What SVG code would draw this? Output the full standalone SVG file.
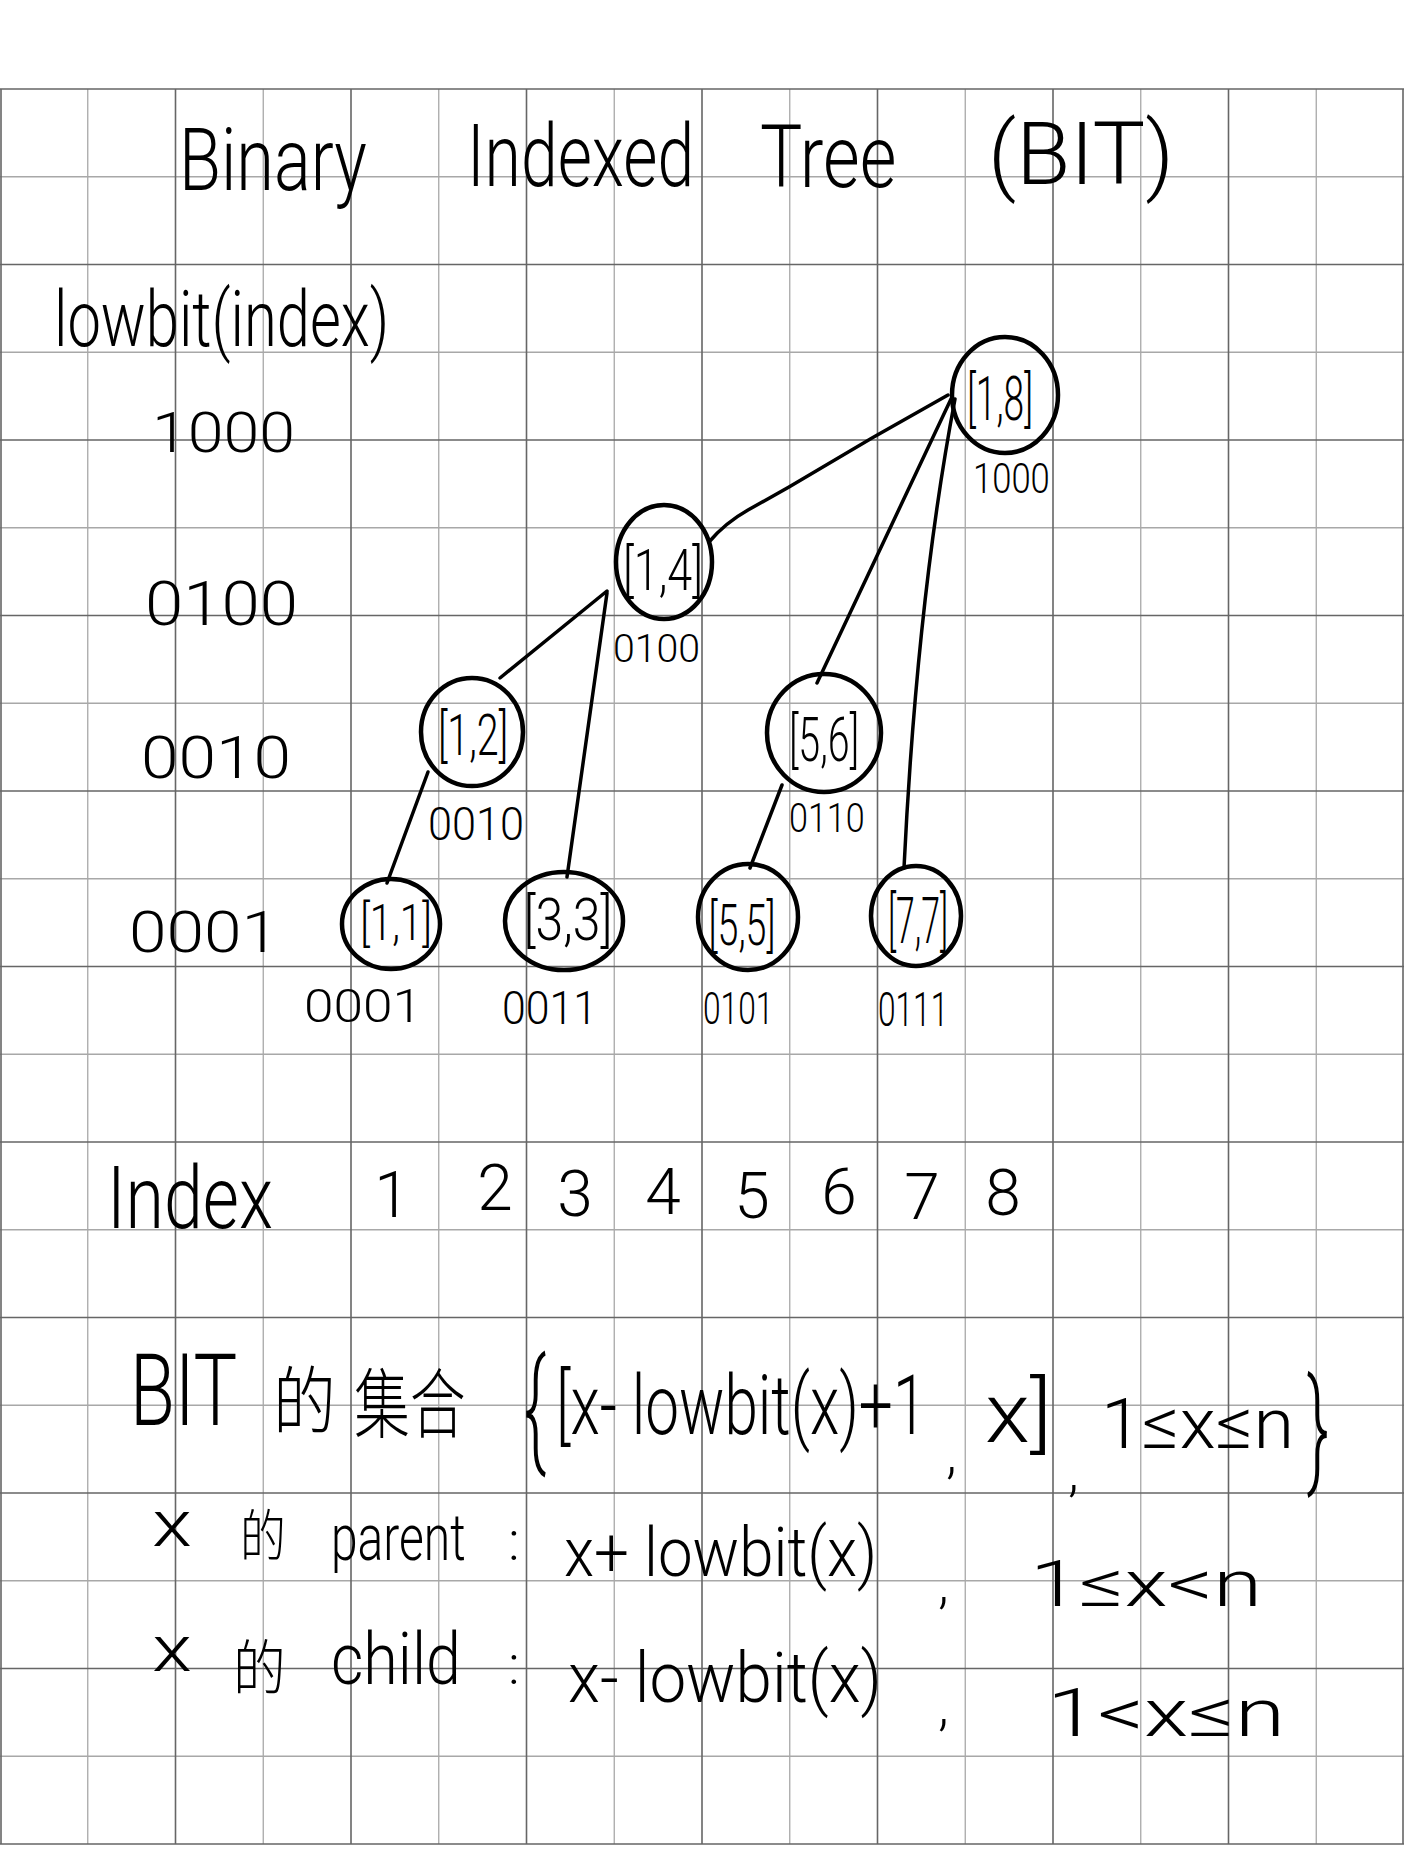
<svg xmlns="http://www.w3.org/2000/svg" width="1404" height="1872" viewBox="0 0 1404 1872">
<style>
.bg{fill:#ffffff}
.gd{stroke:#666;stroke-width:1.6;fill:none}
.gl{stroke:#a8a8a8;stroke-width:1.3;fill:none}
.hw{font-family:"Roboto","Liberation Sans","Noto Sans CJK SC",sans-serif;font-weight:300;fill:#000}
.cjk{font-family:"Noto Sans CJK SC","Noto Sans CJK JP",sans-serif;font-weight:300;fill:#000}
.nd{fill:none;stroke:#000;stroke-width:4.5}
.cn{fill:none;stroke:#000;stroke-width:3.5;stroke-linecap:round;stroke-linejoin:round}
</style>
<rect class="bg" x="0" y="0" width="1404" height="1872"/>
<g id="grid">
<path class="gl" d="M0,176.75H1404M0,352.25H1404M0,527.75H1404M0,703.25H1404M0,878.75H1404M0,1054.25H1404M0,1229.75H1404M0,1405.25H1404M0,1580.75H1404M0,1756.25H1404"/>
<path class="gl" d="M87.75,89V1844M263.25,89V1844M438.75,89V1844M614.25,89V1844M789.75,89V1844M965.25,89V1844M1140.75,89V1844M1316.25,89V1844"/>
<path class="gd" d="M0,89H1404M0,264.5H1404M0,440H1404M0,615.5H1404M0,791H1404M0,966.5H1404M0,1142H1404M0,1317.5H1404M0,1493H1404M0,1668.5H1404M0,1844H1404"/>
<path class="gd" d="M1,89V1844M175.5,89V1844M351,89V1844M526.5,89V1844M702,89V1844M877.5,89V1844M1053,89V1844M1228.5,89V1844M1403,89V1844"/>
</g>
<g id="title">
<text class="hw" transform="translate(179,190) scale(0.77,1)" font-size="88" textLength="244" lengthAdjust="spacingAndGlyphs">Binary</text>
<text class="hw" transform="translate(467,186) scale(0.74,1)" font-size="88" textLength="307" lengthAdjust="spacingAndGlyphs">Indexed</text>
<text class="hw" transform="translate(760,187) scale(0.77,1)" font-size="88" textLength="177" lengthAdjust="spacingAndGlyphs">Tree</text>
<text class="hw" x="988" y="184" font-size="88" textLength="186" lengthAdjust="spacingAndGlyphs">(BIT)</text>
</g>
<g id="axis-labels">
<text class="hw" transform="translate(54,346) scale(0.75,1)" font-size="78" textLength="447" lengthAdjust="spacingAndGlyphs">lowbit(index)</text>
<text class="hw" x="152" y="452" font-size="56" textLength="143" lengthAdjust="spacingAndGlyphs">1000</text>
<text class="hw" x="145" y="625" font-size="62" textLength="153" lengthAdjust="spacingAndGlyphs">0100</text>
<text class="hw" x="141" y="778" font-size="60" textLength="150" lengthAdjust="spacingAndGlyphs">0010</text>
<text class="hw" x="129" y="952" font-size="58" textLength="150" lengthAdjust="spacingAndGlyphs">0001</text>
</g>
<g id="connectors">
<path class="cn" d="M948,395 L872,438 L789,487 L748,510 Q725,523 709,542"/>
<path class="cn" d="M951,399 L817,683"/>
<path class="cn" d="M955,399 Q917,600 904,868"/>
<path class="cn" d="M607,591 L500,678"/>
<path class="cn" d="M607,593 L567,877"/>
<path class="cn" d="M428,772 L387,883"/>
<path class="cn" d="M782,785 L750,868"/>
</g>
<g id="node-1-8">
<ellipse class="nd" cx="1005" cy="395" rx="53" ry="58"/>
<text class="hw" transform="translate(1000,420) scale(0.57,1)" font-size="62" text-anchor="middle" textLength="116" lengthAdjust="spacingAndGlyphs">[1,8]</text>
<text class="hw" transform="translate(973,493) scale(0.8,1)" font-size="43" textLength="96" lengthAdjust="spacingAndGlyphs">1000</text>
</g>
<g id="node-1-4">
<ellipse class="nd" cx="664" cy="562" rx="48" ry="57"/>
<text class="hw" transform="translate(663,590) scale(0.74,1)" font-size="58" text-anchor="middle" textLength="108" lengthAdjust="spacingAndGlyphs">[1,4]</text>
<text class="hw" x="613" y="662" font-size="38" textLength="87" lengthAdjust="spacingAndGlyphs">0100</text>
</g>
<g id="node-1-2">
<ellipse class="nd" cx="472" cy="732" rx="51" ry="54"/>
<text class="hw" transform="translate(473,755) scale(0.65,1)" font-size="58" text-anchor="middle" textLength="108" lengthAdjust="spacingAndGlyphs">[1,2]</text>
<text class="hw" x="428" y="840" font-size="46" textLength="96" lengthAdjust="spacingAndGlyphs">0010</text>
</g>
<g id="node-5-6">
<ellipse class="nd" cx="824" cy="733" rx="57" ry="59"/>
<text class="hw" transform="translate(824,761) scale(0.61,1)" font-size="62" text-anchor="middle" textLength="115" lengthAdjust="spacingAndGlyphs">[5,6]</text>
<text class="hw" transform="translate(789,832) scale(0.85,1)" font-size="40" textLength="89" lengthAdjust="spacingAndGlyphs">0110</text>
</g>
<g id="node-1-1">
<ellipse class="nd" cx="391" cy="924" rx="49" ry="45"/>
<text class="hw" transform="translate(396,940) scale(0.77,1)" font-size="50" text-anchor="middle" textLength="93" lengthAdjust="spacingAndGlyphs">[1,1]</text>
<text class="hw" x="304" y="1022" font-size="46" textLength="118" lengthAdjust="spacingAndGlyphs">0001</text>
</g>
<g id="node-3-3">
<ellipse class="nd" cx="564" cy="921" rx="59" ry="49"/>
<text class="hw" transform="translate(568,940) scale(0.8,1)" font-size="60" text-anchor="middle" textLength="111" lengthAdjust="spacingAndGlyphs">[3,3]</text>
<text class="hw" x="502" y="1024" font-size="46" textLength="95" lengthAdjust="spacingAndGlyphs">0011</text>
</g>
<g id="node-5-5">
<ellipse class="nd" cx="748" cy="917" rx="50" ry="53"/>
<text class="hw" transform="translate(742,945) scale(0.62,1)" font-size="58" text-anchor="middle" textLength="108" lengthAdjust="spacingAndGlyphs">[5,5]</text>
<text class="hw" transform="translate(703,1024) scale(0.71,1)" font-size="44" textLength="99" lengthAdjust="spacingAndGlyphs">0101</text>
</g>
<g id="node-7-7">
<ellipse class="nd" cx="916" cy="916" rx="45" ry="50"/>
<text class="hw" transform="translate(918,943) scale(0.5,1)" font-size="64" text-anchor="middle" textLength="120" lengthAdjust="spacingAndGlyphs">[7,7]</text>
<text class="hw" transform="translate(878,1026) scale(0.65,1)" font-size="48" textLength="108" lengthAdjust="spacingAndGlyphs">0111</text>
</g>
<g id="index-row">
<text class="hw" transform="translate(107,1228) scale(0.79,1)" font-size="88" textLength="210" lengthAdjust="spacingAndGlyphs">Index</text>
<g class="hw" font-size="64" text-anchor="middle">
<text x="392" y="1217">1</text>
<text x="495" y="1210">2</text>
<text x="575" y="1216">3</text>
<text x="663" y="1214">4</text>
<text x="752" y="1218">5</text>
<text x="839" y="1214">6</text>
<text x="922" y="1219">7</text>
<text x="1003" y="1215">8</text>
</g>
</g>
<g id="bit-set">
<text class="hw" transform="translate(130,1425) scale(0.71,1)" font-size="100" textLength="151" lengthAdjust="spacingAndGlyphs">BIT</text>
<text class="cjk" transform="translate(273,1428) scale(0.85,1)" font-size="74" textLength="74" lengthAdjust="spacingAndGlyphs">的</text>
<text class="cjk" transform="translate(354,1432) scale(0.74,1)" font-size="76" textLength="151" lengthAdjust="spacingAndGlyphs">集合</text>
<text class="hw" transform="translate(524,1452) scale(0.5,1)" font-size="130" textLength="44" lengthAdjust="spacingAndGlyphs">{</text>
<text class="hw" transform="translate(556,1434) scale(0.7,1)" font-size="84" textLength="529" lengthAdjust="spacingAndGlyphs">[x- lowbit(x)+1</text>
<text class="hw" x="946" y="1472" font-size="56">,</text>
<text class="hw" x="985" y="1442" font-size="84" textLength="67" lengthAdjust="spacingAndGlyphs">x]</text>
<text class="hw" x="1068" y="1490" font-size="56">,</text>
<text class="hw" x="1101" y="1448" font-size="70" textLength="193" lengthAdjust="spacingAndGlyphs">1≤x≤n</text>
<text class="hw" transform="translate(1307,1472) scale(0.5,1)" font-size="130" textLength="44" lengthAdjust="spacingAndGlyphs">}</text>
</g>
<g id="parent-line">
<text class="hw" x="152" y="1546" font-size="64" textLength="40" lengthAdjust="spacingAndGlyphs">x</text>
<text class="cjk" transform="translate(240,1556) scale(0.82,1)" font-size="56" textLength="56" lengthAdjust="spacingAndGlyphs">的</text>
<text class="hw" transform="translate(331,1560) scale(0.74,1)" font-size="64" textLength="182" lengthAdjust="spacingAndGlyphs">parent</text>
<text class="hw" x="508" y="1560" font-size="56">:</text>
<text class="hw" transform="translate(564,1576) scale(0.88,1)" font-size="68" textLength="356" lengthAdjust="spacingAndGlyphs">x+ lowbit(x)</text>
<text class="hw" x="938" y="1602" font-size="56">,</text>
<text class="hw" x="1030" y="1606" font-size="64" textLength="232" lengthAdjust="spacingAndGlyphs">1≤x&lt;n</text>
</g>
<g id="child-line">
<text class="hw" x="152" y="1671" font-size="64" textLength="40" lengthAdjust="spacingAndGlyphs">x</text>
<text class="cjk" transform="translate(233,1690) scale(0.88,1)" font-size="60" textLength="60" lengthAdjust="spacingAndGlyphs">的</text>
<text class="hw" transform="translate(331,1684) scale(0.86,1)" font-size="72" textLength="151" lengthAdjust="spacingAndGlyphs">child</text>
<text class="hw" x="508" y="1684" font-size="56">:</text>
<text class="hw" transform="translate(568,1702) scale(0.91,1)" font-size="70" textLength="345" lengthAdjust="spacingAndGlyphs">x- lowbit(x)</text>
<text class="hw" x="938" y="1724" font-size="56">,</text>
<text class="hw" x="1047" y="1736" font-size="66" textLength="238" lengthAdjust="spacingAndGlyphs">1&lt;x≤n</text>
</g>
</svg>
